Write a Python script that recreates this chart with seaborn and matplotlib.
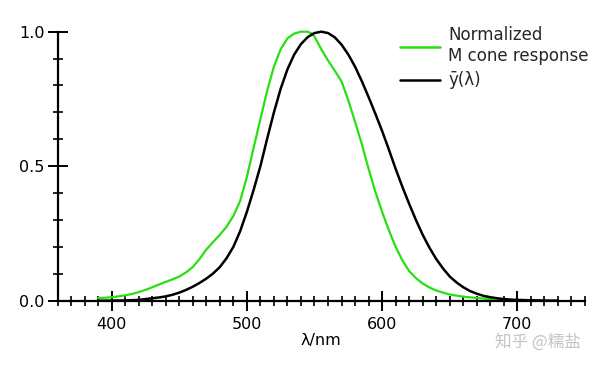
import numpy as np
import pandas as pd
import matplotlib
matplotlib.use("Agg")
import matplotlib.pyplot as plt
from matplotlib.ticker import MultipleLocator, FormatStrFormatter
import seaborn as sns

# M cone response (normalized)
M_WL = [390, 395, 400, 405, 410, 415, 420, 425, 430, 435, 440, 445, 450,
        455, 460, 465, 470, 475, 480, 485, 490, 495, 500, 505, 510, 515,
        520, 525, 530, 535, 540, 545, 548, 550, 555, 560, 565, 570, 575,
        580, 585, 590, 595, 600, 605, 610, 615, 620, 625, 630, 635, 640,
        645, 650, 660, 670, 680, 690, 700, 710, 720]
M_VAL = [0.010, 0.011, 0.013, 0.016, 0.020, 0.025, 0.032, 0.040, 0.050,
         0.060, 0.070, 0.079, 0.090, 0.105, 0.125, 0.155, 0.190, 0.218,
         0.245, 0.275, 0.315, 0.370, 0.460, 0.568, 0.675, 0.780, 0.870,
         0.935, 0.975, 0.993, 1.000, 1.000, 0.993, 0.982, 0.935, 0.893,
         0.855, 0.815, 0.745, 0.665, 0.582, 0.490, 0.405, 0.330, 0.262,
         0.200, 0.150, 0.110, 0.084, 0.064, 0.049, 0.038, 0.030, 0.023,
         0.015, 0.010, 0.006, 0.004, 0.002, 0.001, 0.0005]

# photopic luminosity function y-bar(lambda)
Y_WL = [390, 395, 400, 405, 410, 415, 420, 425, 430, 435, 440, 445, 450,
        455, 460, 465, 470, 475, 480, 485, 490, 495, 500, 505, 510, 515,
        520, 525, 530, 535, 540, 545, 550, 555, 560, 565, 570, 575, 580,
        585, 590, 595, 600, 605, 610, 615, 620, 625, 630, 635, 640, 645,
        650, 655, 660, 665, 670, 675, 680, 685, 690, 695, 700, 710, 720,
        730]
Y_VAL = [0.0, 0.0002, 0.0005, 0.0008, 0.001, 0.002, 0.003, 0.006, 0.009,
         0.012, 0.016, 0.022, 0.030, 0.040, 0.052, 0.066, 0.082, 0.101,
         0.125, 0.158, 0.200, 0.258, 0.330, 0.412, 0.500, 0.602, 0.700,
         0.788, 0.860, 0.915, 0.954, 0.980, 0.995, 1.000, 0.995, 0.979,
         0.952, 0.915, 0.870, 0.816, 0.757, 0.695, 0.631, 0.562, 0.490,
         0.423, 0.360, 0.300, 0.245, 0.197, 0.155, 0.120, 0.090, 0.068,
         0.050, 0.036, 0.026, 0.018, 0.013, 0.009, 0.006, 0.004, 0.003,
         0.0015, 0.0007, 0.0003]

GREEN = "#27e011"

sns.set_theme(style="ticks")
plt.rcParams["font.family"] = ["DejaVu Sans"]

fig = plt.figure(figsize=(6.0, 3.65), dpi=100)
ax = fig.add_axes([57.5 / 600, 1 - 300.7 / 365, (585 - 57.5) / 600,
                   (300.7 - 31.7) / 365])

df_m = pd.DataFrame({"wl": M_WL, "val": M_VAL})
df_y = pd.DataFrame({"wl": Y_WL, "val": Y_VAL})
sns.lineplot(data=df_m, x="wl", y="val", ax=ax, color=GREEN, lw=1.6,
             label="Normalized\nM cone response", clip_on=False,
             solid_joinstyle="round")
sns.lineplot(data=df_y, x="wl", y="val", ax=ax, color="black", lw=1.8,
             label="ȳ(λ)", clip_on=False, solid_joinstyle="round")

ax.set_xlim(360, 750)
ax.set_ylim(0, 1.0)
ax.xaxis.set_major_locator(MultipleLocator(100))
ax.xaxis.set_minor_locator(MultipleLocator(10))
ax.yaxis.set_major_locator(MultipleLocator(0.5))
ax.yaxis.set_minor_locator(MultipleLocator(0.1))
ax.yaxis.set_major_formatter(FormatStrFormatter("%.1f"))

ax.tick_params(which="major", direction="inout", length=14, width=1.4,
               labelsize=11.5, color="black", labelcolor="black")
ax.tick_params(which="minor", direction="inout", length=7, width=1.2,
               color="black")
ax.tick_params(axis="x", which="major", pad=4.5)
ax.tick_params(axis="y", which="major", pad=2.5)

sns.despine(ax=ax)
for s in ("left", "bottom"):
    ax.spines[s].set_linewidth(1.6)
    ax.spines[s].set_color("black")

ax.set_xlabel("λ/nm", fontsize=11.5, labelpad=1, color="black")
ax.set_ylabel("")

leg = ax.legend(loc="upper left", bbox_to_anchor=(400 / 600, 1 - 26 / 365),
                bbox_transform=fig.transFigure, frameon=False, fontsize=12,
                handlelength=2.4, handletextpad=0.5, borderpad=0,
                borderaxespad=0, labelspacing=0.4)
for line in leg.get_lines():
    line.set_linewidth(1.8)

fig.text(538 / 600, 1 - 342 / 365, "知乎 @糯盐", fontsize=12,
         color="#c4c4c4", ha="center", va="center",
         family=["Noto Sans CJK SC", "DejaVu Sans"])

fig.savefig("out.png", dpi=100)
